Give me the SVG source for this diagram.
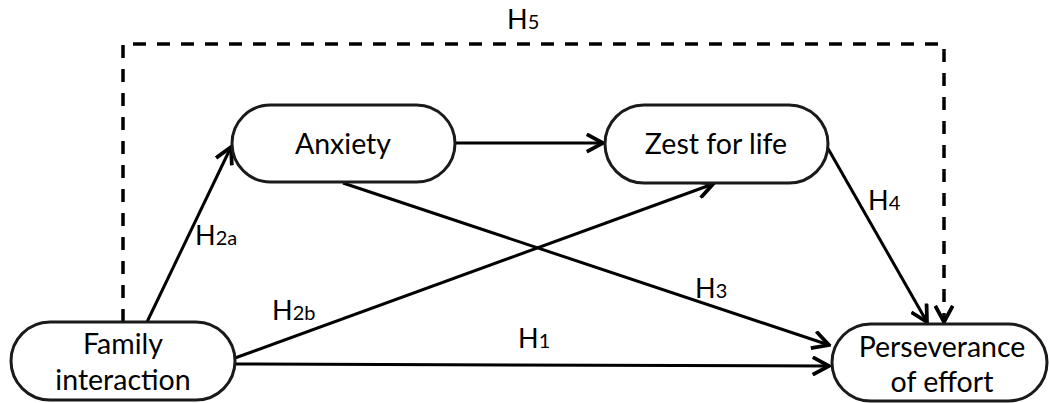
<svg xmlns="http://www.w3.org/2000/svg" width="1049" height="403" viewBox="0 0 1049 403">
<style>
.node rect{fill:#fff;stroke:#1a1a1a;stroke-width:3}
.node text,.lbl{font-family:Lato,"Liberation Sans",sans-serif;font-size:28.5px;fill:#000;text-anchor:middle}
.lbl{text-anchor:start;font-size:27px}
.sub{font-size:20px}
.conn line,.conn path{stroke:#000;stroke-width:3;fill:none}
.conn path.dash{stroke-dasharray:13 11;stroke-width:3.5}
</style>
<defs>
<marker id="arr" markerUnits="userSpaceOnUse" markerWidth="20" markerHeight="20" viewBox="-14 -8 16 16" refX="0" refY="0" orient="auto">
<path d="M-13,-7 L0,0 L-13,7" fill="none" stroke="#000" stroke-width="3" stroke-linejoin="miter"/>
</marker>
</defs>
<g class="conn">
<path class="dash" d="M123,322 V44 H944 V322" marker-end="url(#arr)"/>
<line x1="147" y1="322" x2="231" y2="147" marker-end="url(#arr)"/>
<line x1="455" y1="143" x2="603" y2="143" marker-end="url(#arr)"/>
<line x1="343" y1="183" x2="829" y2="345" marker-end="url(#arr)"/>
<line x1="235" y1="358" x2="713" y2="184" marker-end="url(#arr)"/>
<line x1="235" y1="364" x2="829" y2="366" marker-end="url(#arr)"/>
<line x1="826" y1="145" x2="927" y2="322" marker-end="url(#arr)"/>
</g>
<g id="family" class="node">
<rect x="11" y="322" width="224" height="78" rx="39"/>
<text x="123" y="354">Family</text>
<text x="123" y="390">interaction</text>
</g>
<g id="anxiety" class="node">
<rect x="232" y="105" width="223" height="77" rx="38.5"/>
<text x="343" y="154">Anxiety</text>
</g>
<g id="zest" class="node">
<rect x="605" y="105" width="223" height="78" rx="39"/>
<text x="716" y="154">Zest for life</text>
</g>
<g id="perseverance" class="node">
<rect x="832" y="324" width="215" height="77" rx="38.5"/>
<text x="942" y="357">Perseverance</text>
<text x="942" y="392">of effort</text>
</g>
<g id="labels">
<text class="lbl" x="507" y="29">H<tspan class="sub">5</tspan></text>
<text class="lbl" x="195" y="245">H<tspan class="sub">2a</tspan></text>
<text class="lbl" x="272" y="320">H<tspan class="sub">2b</tspan></text>
<text class="lbl" x="518" y="348">H<tspan class="sub">1</tspan></text>
<text class="lbl" x="695" y="298">H<tspan class="sub">3</tspan></text>
<text class="lbl" x="868" y="210">H<tspan class="sub">4</tspan></text>
</g>
</svg>
